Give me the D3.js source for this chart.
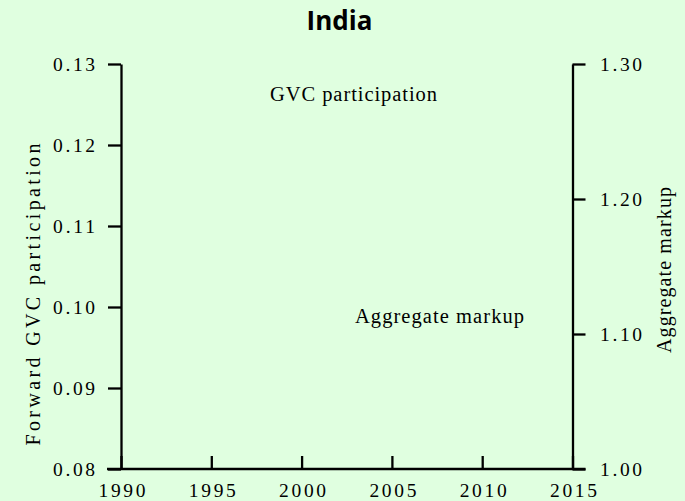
<!DOCTYPE html>
<html>
<head>
<meta charset="utf-8">
<script src="https://cdn.jsdelivr.net/npm/d3@7"></script>
<style>
  html, body { margin: 0; padding: 0; background: #e0ffe0; }
  svg { display: block; }
  .serif { font-family: "Liberation Serif", "Times New Roman", Times, serif; }
</style>
</head>
<body>
<svg id="chart" width="685" height="501"></svg>
<script>
// ---- data ----
const years = [1990, 1995, 2000, 2005, 2010, 2015];
const leftTicks = [0.08, 0.09, 0.10, 0.11, 0.12, 0.13];
const rightTicks = [1.00, 1.10, 1.20, 1.30];
// The reference shows no plotted observations for these series.
const gvcParticipation = [];
const aggregateMarkup = [];

const titleText = "India";
const leftTitle = "Forward GVC participation";
const rightTitle = "Aggregate markup";
const gvcLabel = "GVC participation";
const markupLabel = "Aggregate markup";

// ---- layout ----
const W = 685, H = 501;
const pL = 121, pR = 572.5, pT = 64, pB = 469;

const svg = d3.select("#chart");
svg.append("rect").attr("width", W).attr("height", H).attr("fill", "#e0ffe0");

const x = d3.scaleLinear().domain([1990, 2015]).range([pL, pR]);
const yL = d3.scaleLinear().domain([0.08, 0.13]).range([pB, pT]);
const yR = d3.scaleLinear().domain([1.00, 1.30]).range([pB, pT]);

function styleAxis(g) {
  g.attr("font-family", null).attr("font-size", null);
  g.select(".domain").attr("stroke", "#000").attr("stroke-width", 2.3);
  g.selectAll(".tick line").attr("stroke", "#000").attr("stroke-width", 2.3);
  g.selectAll(".tick text").attr("fill", "#000").attr("class", "serif")
    .style("font-size", "19.5px");
}

// Left axis
const gL = svg.append("g").attr("transform", `translate(${pL},0)`)
  .call(d3.axisLeft(yL).tickValues(leftTicks).tickSize(13).tickSizeOuter(0)
        .tickFormat(d3.format(".2f")));
styleAxis(gL);
gL.selectAll(".tick text")
  .attr("text-anchor", "start").attr("x", -68).attr("dy", "0.32em")
  .attr("textLength", 42).attr("lengthAdjust", "spacing");

// Right axis
const gR = svg.append("g").attr("transform", `translate(${pR},0)`)
  .call(d3.axisRight(yR).tickValues(rightTicks).tickSize(13).tickSizeOuter(0)
        .tickFormat(d3.format(".2f")));
styleAxis(gR);
gR.selectAll(".tick text")
  .attr("text-anchor", "start").attr("x", 27.5).attr("dy", "0.32em")
  .attr("textLength", 42).attr("lengthAdjust", "spacing");

// Bottom axis (ticks point inward)
const gB = svg.append("g").attr("transform", `translate(0,${pB})`)
  .call(d3.axisBottom(x).tickValues(years).tickSize(-13).tickSizeOuter(0)
        .tickFormat(d3.format("d")));
styleAxis(gB);
gB.select(".domain").attr("d", `M${pL - 14},0H${pR + 13}`);
gB.selectAll(".tick text")
  .attr("text-anchor", "start").attr("x", -23).attr("y", 28).attr("dy", null)
  .attr("textLength", 47).attr("lengthAdjust", "spacing");

// Series lines (none visible in reference)
const lineL = d3.line().x(d => x(d.year)).y(d => yL(d.value));
const lineR = d3.line().x(d => x(d.year)).y(d => yR(d.value));
if (gvcParticipation.length) {
  svg.append("path").datum(gvcParticipation).attr("d", lineL)
    .attr("fill", "none").attr("stroke", "#000").attr("stroke-width", 2);
}
if (aggregateMarkup.length) {
  svg.append("path").datum(aggregateMarkup).attr("d", lineR)
    .attr("fill", "none").attr("stroke", "#000").attr("stroke-width", 2);
}

// Title
svg.append("text").attr("x", 339.5).attr("y", 30).attr("text-anchor", "middle")
  .style("font-family", "'Open Sans', Calibri, sans-serif").style("font-weight", 700)
  .style("font-size", "26px").attr("fill", "#000").text(titleText);

// Series labels
svg.append("text").attr("class", "serif").attr("x", 270).attr("y", 101)
  .attr("textLength", 167).attr("lengthAdjust", "spacing")
  .style("font-size", "20.5px").attr("fill", "#000")
  .text(gvcLabel);
svg.append("text").attr("class", "serif").attr("x", 355).attr("y", 323)
  .attr("textLength", 169).attr("lengthAdjust", "spacing")
  .style("font-size", "20.5px").attr("fill", "#000")
  .text(markupLabel);

// Axis titles
svg.append("text").attr("class", "serif")
  .attr("transform", `translate(40,${294.5 + 151}) rotate(-90)`)
  .attr("textLength", 302).attr("lengthAdjust", "spacing")
  .style("font-size", "20px").attr("fill", "#000")
  .text(leftTitle);
svg.append("text").attr("class", "serif")
  .attr("transform", `translate(671,353) rotate(-90)`)
  .attr("textLength", 166).attr("lengthAdjust", "spacing")
  .style("font-size", "20px").attr("fill", "#000")
  .text(rightTitle);
</script>
</body>
</html>
